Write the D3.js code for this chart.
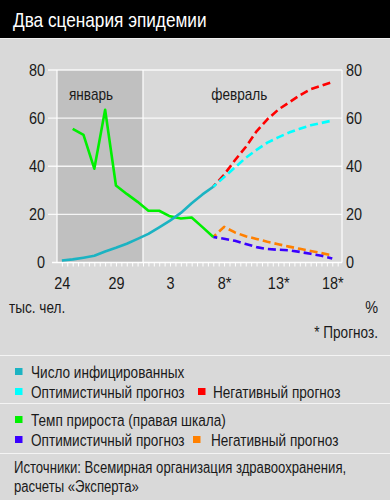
<!DOCTYPE html>
<html>
<head>
<meta charset="utf-8">
<script src="https://cdn.jsdelivr.net/npm/d3@7"></script>
<style>
  html, body { margin: 0; padding: 0; background: #d9d9d9; }
  #chart { width: 390px; height: 500px; }
  text { font-family: "Liberation Sans", Arial, sans-serif; fill: #1a1a1a; }
</style>
</head>
<body>
<div id="chart"></div>
<script>
// days from 24 Jan (index 0) to 18 Feb (index 25)
const dayLabels = ["24", "25", "26", "27", "28", "29", "30", "31",
  "1", "2", "3", "4", "5", "6", "7", "8*", "9*", "10*", "11*", "12*", "13*",
  "14*", "15*", "16*", "17*", "18*"];
const labelDays = ["24", "29", "3", "8*", "13*", "18*"];
const yTicks = [0, 20, 40, 60, 80];
const months = ["январь", "февраль"];

// infected, thousands (24 Jan .. 7 Feb)
const infected = [0.85, 1.3, 2.0, 2.8, 4.6, 6.1, 7.8, 9.8, 11.9, 14.6, 17.4, 20.6, 24.6, 28.3, 31.5];
// growth rate, % (25 Jan .. 7 Feb)
const growth = [55.5, 53, 39, 63.5, 32, 28.5, 25.2, 21.5, 21.5, 19.2, 18.3, 18.7, 14.7, 10.6];
// forecasts (7 Feb .. 18 Feb)
const infectedOptimistic = [31.5, 35.5, 39.5, 43.5, 46.8, 49.8, 52, 54, 55.6, 57, 58, 59];
const infectedNegative = [31.5, 36.5, 42.5, 48, 54.5, 59.5, 63.5, 66.5, 69.5, 72, 73.5, 75];
const growthOptimistic = [10.6, 9.9, 9, 7.7, 6.4, 5.6, 5.3, 5.1, 4.4, 3.6, 2.8, 1.7];
const growthNegative = [10.6, 14.8, 12.5, 10.9, 9.8, 8.6, 7.6, 6.6, 5.7, 4.8, 3.9, 3];

const colors = {
  infected: "#1bb3c2",
  infOpt: "#00ffff",
  infNeg: "#ff0000",
  growth: "#00f000",
  grOpt: "#3a00ff",
  grNeg: "#ff8000",
};

const narrow = 0.85; // the original uses a condensed face

const width = 390, height = 500;
const svg = d3.select("#chart").append("svg")
  .attr("width", width).attr("height", height);

svg.append("rect").attr("width", width).attr("height", height).attr("fill", "#d9d9d9");

function label(x, y, txt, size, anchor, sx) {
  return svg.append("text")
    .attr("transform", `translate(${x},${y}) scale(${sx || narrow},1)`)
    .attr("text-anchor", anchor || "start")
    .style("font-size", size + "px")
    .text(txt);
}

// title bar
svg.append("rect").attr("width", width).attr("height", 38).attr("fill", "#000");
svg.append("line").attr("x1", 0).attr("x2", width).attr("y1", 38.5).attr("y2", 38.5)
  .attr("stroke", "#efefef").attr("stroke-width", 1);
label(13, 27, "Два сценария эпидемии", 21, "start", 0.82).style("fill", "#fff");

const x = d3.scaleLinear().domain([-0.45, 25.9]).range([57, 342]);
const y = d3.scaleLinear().domain([0, 80]).range([262.5, 70]);

const idx = (arr, start) => arr.map((v, i) => ({ d: start + i, v: v }));

// january shade
svg.append("rect")
  .attr("x", x(-0.45)).attr("y", y(80))
  .attr("width", x(7.5) - x(-0.45)).attr("height", y(0) - y(80))
  .attr("fill", "#c0c0c0");

// grid
svg.append("g").selectAll("line").data(yTicks.filter(d => d > 0)).join("line")
  .attr("x1", 48).attr("x2", x(25.9))
  .attr("y1", d => y(d)).attr("y2", d => y(d))
  .attr("stroke", "#fff").attr("stroke-width", 1.4).attr("opacity", 0.85);

svg.append("g").selectAll("line").data([-0.45, 7.5, 25.9]).join("line")
  .attr("x1", d => x(d)).attr("x2", d => x(d))
  .attr("y1", y(80)).attr("y2", y(0))
  .attr("stroke", "#fff").attr("stroke-width", 1.4).attr("opacity", 0.85);

// x axis with small day ticks
const xAxis = d3.axisBottom(x)
  .tickValues(d3.range(0, 26, 0.5))
  .tickSize(4)
  .tickFormat("");
const xg = svg.append("g").attr("transform", `translate(0,${y(0)})`).call(xAxis);
xg.select(".domain").attr("stroke", "#fff").attr("stroke-width", 1.4)
  .attr("d", `M52,0H${x(25.9)}`);
xg.selectAll(".tick line").attr("stroke", "#fff");

// x labels
const labelAxis = d3.axisBottom(x)
  .tickValues(labelDays.map(l => dayLabels.indexOf(l)))
  .tickSize(0)
  .tickFormat(d => dayLabels[d]);
const lg = svg.append("g").attr("transform", `translate(0,${y(0) + 11})`).call(labelAxis);
lg.select(".domain").remove();
lg.selectAll("text").style("font-size", "17px").attr("fill", "#1a1a1a")
  .attr("transform", `scale(${narrow},1)`);

// y axes
const yLeft = d3.axisLeft(y).tickValues(yTicks).tickSize(0).tickPadding(0);
const gl = svg.append("g").attr("transform", "translate(45,0)").call(yLeft);
gl.select(".domain").remove();
gl.selectAll("text").style("font-size", "17px").attr("fill", "#1a1a1a")
  .attr("transform", `scale(${narrow},1)`);

const yRight = d3.axisRight(y).tickValues(yTicks).tickSize(0).tickPadding(0);
const gr = svg.append("g").attr("transform", "translate(346,0)").call(yRight);
gr.select(".domain").remove();
gr.selectAll("text").style("font-size", "17px").attr("fill", "#1a1a1a")
  .attr("transform", `scale(${narrow},1)`);

// month labels
label(x(2.7), 100, months[0], 16, "middle");
label(x(16.4), 100, months[1], 16, "middle");

// lines
const line = d3.line().x(d => x(d.d)).y(d => y(d.v));

function drawLine(data, color, dashed) {
  const p = svg.append("path").datum(data)
    .attr("d", line)
    .attr("fill", "none")
    .attr("stroke", color)
    .attr("stroke-width", 2.6)
    .attr("stroke-linejoin", "round");
  if (dashed) p.attr("stroke-dasharray", "8,4").attr("stroke-dashoffset", 4);
}

drawLine(idx(infectedNegative, 14), colors.infNeg, true);
drawLine(idx(infectedOptimistic, 14), colors.infOpt, true);
drawLine(idx(growthNegative, 14), colors.grNeg, true);
drawLine(idx(growthOptimistic, 14), colors.grOpt, true);
drawLine(idx(growth, 1), colors.growth, false);
drawLine(idx(infected, 0), colors.infected, false);

// axis captions
label(9, 313, "тыс. чел.", 16);
label(378, 313, "%", 17, "end");
label(378, 338, "* Прогноз.", 16, "end");

// separators
svg.append("g").selectAll("line").data([355, 403, 453]).join("line")
  .attr("x1", 0).attr("x2", width).attr("y1", d => d + 0.5).attr("y2", d => d + 0.5)
  .attr("stroke", "#f4f4f4").attr("stroke-width", 1.2);

// legend
const legendItems = [
  { label: "Число инфицированных", color: colors.infected, x: 15, y: 372 },
  { label: "Оптимистичный прогноз", color: colors.infOpt, x: 15, y: 392 },
  { label: "Негативный прогноз", color: colors.infNeg, x: 198, y: 392 },
  { label: "Темп прироста (правая шкала)", color: colors.growth, x: 15, y: 420 },
  { label: "Оптимистичный прогноз", color: colors.grOpt, x: 15, y: 440 },
  { label: "Негативный прогноз", color: colors.grNeg, x: 193, y: 440 },
];
const lgItems = svg.append("g").selectAll("g").data(legendItems).join("g")
  .attr("transform", d => `translate(${d.x},${d.y})`);
lgItems.append("rect").attr("x", 0).attr("y", -4).attr("width", 7.5).attr("height", 7)
  .attr("fill", d => d.color);
lgItems.append("text")
  .attr("transform", (d, i) => `translate(${i === 5 ? 18 : i === 2 ? 15 : 16},6) scale(0.8,1)`)
  .style("font-size", "17px").text(d => d.label);

// sources
label(14, 473, "Источники: Всемирная организация здравоохранения,", 16, "start", 0.82);
label(14, 492, "расчеты «Эксперта»", 16, "start", 0.82);
</script>
</body>
</html>
